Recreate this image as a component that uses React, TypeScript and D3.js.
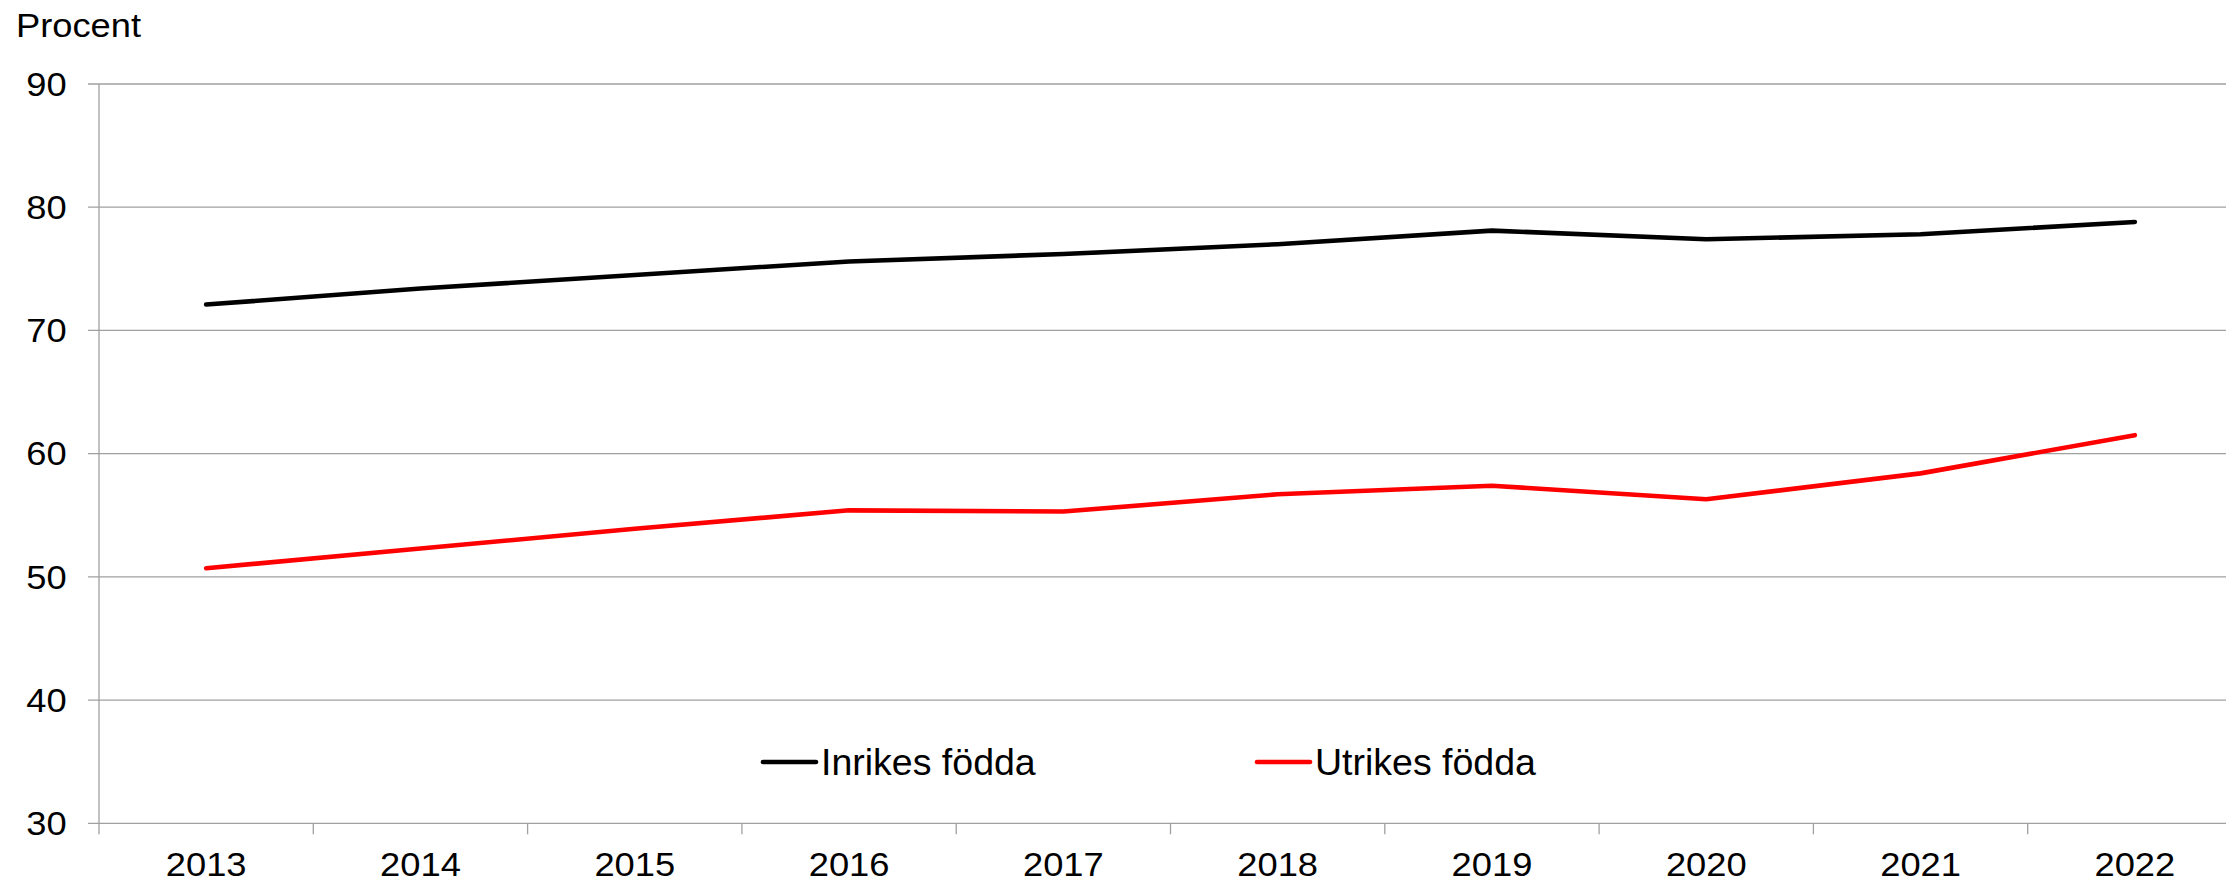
import * as d3 from 'd3';

const years = ['2013', '2014', '2015', '2016', '2017', '2018', '2019', '2020', '2021', '2022'];
const inrikes = [72.1, 73.4, 74.5, 75.6, 76.2, 77.0, 78.1, 77.4, 77.8, 78.8];
const utrikes = [50.7, 52.3, 53.9, 55.4, 55.3, 56.7, 57.4, 56.3, 58.4, 61.5];
const yTicks = [30, 40, 50, 60, 70, 80, 90];

const series = [
  { name: 'Inrikes födda', values: inrikes, color: '#000000' },
  { name: 'Utrikes födda', values: utrikes, color: '#ff0000' },
];

const W = 2226;
const H = 883;
const FONT = '"Liberation Sans", Arial, sans-serif';
const GRID = '#a0a0a0';
// the source text is a little wider than plain Arial
const STRETCH = 'scale(1.1,1)';

export default function App() {
  // plot area
  const left = 99;
  const top = 84;
  const bottom = 823.3;
  const step = 214.3;

  const x = d3.scaleBand<string>().domain(years).range([left, left + step * years.length]).padding(0);
  const y = d3.scaleLinear().domain([30, 90]).range([bottom, top]);
  const cx = (yr: string) => (x(yr) as number) + x.bandwidth() / 2;

  const line = d3.line<number>()
    .x((_, i) => cx(years[i]))
    .y(d => y(d));

  const legendX = [763, 1257];

  return (
    <svg width={W} height={H} style={{ position: 'absolute', left: 0, top: 0, background: '#fff' }}>
      <rect width={W} height={H} fill="#fff" />

      {/* grid + y ticks */}
      {yTicks.map(t => (
        <g key={t}>
          <line x1={88} x2={W} y1={y(t)} y2={y(t)} stroke={GRID} strokeWidth={1.3} />
          <text
            transform={`translate(66.7,${y(t) + 11.8}) ${STRETCH}`}
            textAnchor="end"
            fontFamily={FONT}
            fontSize={33}
            fill="#000"
          >
            {t}
          </text>
        </g>
      ))}

      {/* y axis */}
      <line x1={left} x2={left} y1={top} y2={bottom + 11} stroke={GRID} strokeWidth={1.3} />

      {/* x ticks at band edges */}
      {years.slice(1).map(yr => (
        <line key={yr} x1={x(yr)} x2={x(yr)} y1={bottom} y2={bottom + 11} stroke={GRID} strokeWidth={1.3} />
      ))}
      {years.map(yr => (
        <text
          key={yr}
          transform={`translate(${cx(yr)},876) ${STRETCH}`}
          textAnchor="middle"
          fontFamily={FONT}
          fontSize={33}
          fill="#000"
        >
          {yr}
        </text>
      ))}

      <text transform={`translate(16,37.3) ${STRETCH}`} fontFamily={FONT} fontSize={33} fill="#000">
        Procent
      </text>

      {/* series */}
      {series.map(s => (
        <path
          key={s.name}
          d={line(s.values) ?? ''}
          fill="none"
          stroke={s.color}
          strokeWidth={4.6}
          strokeLinecap="round"
          strokeLinejoin="round"
        />
      ))}

      {/* legend */}
      {series.map((s, i) => (
        <g key={s.name}>
          <line x1={legendX[i]} x2={legendX[i] + 53} y1={762} y2={762} stroke={s.color} strokeWidth={4.6} strokeLinecap="round" />
          <text x={legendX[i] + 58} y={775} fontFamily={FONT} fontSize={37.5} fill="#000">
            {s.name}
          </text>
        </g>
      ))}
    </svg>
  );
}
